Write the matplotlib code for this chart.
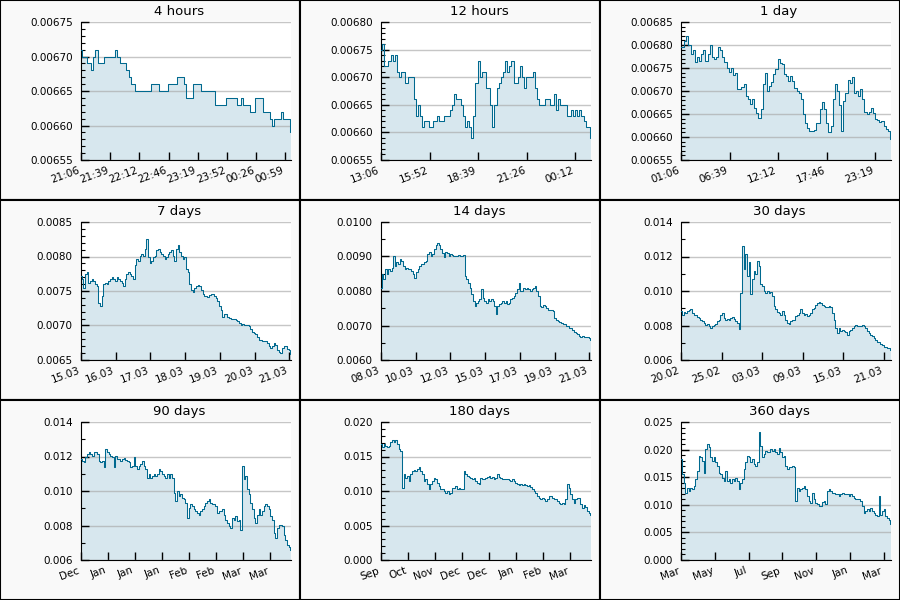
import matplotlib
matplotlib.use('Agg')
import matplotlib.pyplot as plt
from matplotlib.patches import Rectangle
from matplotlib.ticker import MultipleLocator, AutoMinorLocator, FormatStrFormatter
import numpy as np

# prices in thousandths (6.70 -> 0.00670), evenly sampled over each window
h4_vals = [6.71, 6.70, 6.70, 6.69, 6.69, 6.68, 6.70, 6.71, 6.69, 6.69, 6.69, 6.70, 6.70, 6.70, 6.70, 6.70,
           6.71, 6.70, 6.69, 6.69, 6.69, 6.68, 6.67, 6.66, 6.66, 6.65, 6.65, 6.65, 6.65, 6.65, 6.65, 6.65,
           6.66, 6.66, 6.66, 6.66, 6.65, 6.65, 6.65, 6.65, 6.66, 6.66, 6.66, 6.66, 6.67, 6.67, 6.67, 6.66,
           6.64, 6.64, 6.64, 6.66, 6.66, 6.66, 6.66, 6.65, 6.65, 6.65, 6.65, 6.65, 6.65, 6.63, 6.63, 6.63,
           6.63, 6.63, 6.64, 6.64, 6.64, 6.64, 6.64, 6.63, 6.63, 6.64, 6.63, 6.63, 6.63, 6.62, 6.62, 6.64,
           6.64, 6.64, 6.64, 6.62, 6.62, 6.62, 6.61, 6.60, 6.61, 6.61, 6.61, 6.62, 6.61, 6.61, 6.61, 6.59]

h12_vals = [6.75, 6.76, 6.72, 6.72, 6.73, 6.74, 6.73, 6.74, 6.71, 6.70, 6.71, 6.71, 6.69, 6.70, 6.70, 6.70,
            6.66, 6.63, 6.65, 6.63, 6.61, 6.62, 6.62, 6.61, 6.61, 6.62, 6.62, 6.63, 6.62, 6.62, 6.63, 6.63,
            6.63, 6.64, 6.65, 6.67, 6.66, 6.66, 6.65, 6.63, 6.61, 6.62, 6.61, 6.59, 6.63, 6.69, 6.73, 6.70,
            6.71, 6.71, 6.68, 6.68, 6.65, 6.61, 6.65, 6.68, 6.69, 6.70, 6.71, 6.73, 6.71, 6.72, 6.73, 6.69,
            6.69, 6.70, 6.72, 6.70, 6.68, 6.70, 6.70, 6.70, 6.71, 6.68, 6.66, 6.65, 6.65, 6.65, 6.66, 6.66,
            6.65, 6.65, 6.67, 6.64, 6.66, 6.65, 6.65, 6.65, 6.63, 6.63, 6.64, 6.63, 6.64, 6.63, 6.64, 6.63,
            6.62, 6.61, 6.61, 6.59]

d1_vals = [6.795, 6.795, 6.808, 6.819, 6.800, 6.780, 6.790, 6.762, 6.775, 6.765, 6.780, 6.790, 6.765,
           6.780, 6.799, 6.775, 6.770, 6.775, 6.795, 6.790, 6.775, 6.762, 6.750, 6.742, 6.751, 6.735,
           6.740, 6.704, 6.704, 6.709, 6.715, 6.689, 6.682, 6.671, 6.682, 6.662, 6.652, 6.641, 6.660,
           6.715, 6.740, 6.700, 6.711, 6.720, 6.737, 6.748, 6.769, 6.760, 6.758, 6.737, 6.733, 6.722,
           6.733, 6.722, 6.707, 6.700, 6.696, 6.682, 6.650, 6.630, 6.619, 6.612, 6.612, 6.615, 6.630,
           6.630, 6.660, 6.676, 6.660, 6.630, 6.610, 6.625, 6.682, 6.715, 6.700, 6.670, 6.612, 6.678,
           6.696, 6.725, 6.718, 6.730, 6.696, 6.700, 6.689, 6.704, 6.682, 6.655, 6.650, 6.655, 6.662,
           6.652, 6.640, 6.638, 6.632, 6.634, 6.625, 6.618, 6.612, 6.595]

d7_vals = [7.72, 7.67, 7.55, 7.74, 7.77, 7.62, 7.65, 7.67, 7.65, 7.60, 7.57, 7.33, 7.28, 7.43, 7.60, 7.62,
           7.60, 7.65, 7.67, 7.70, 7.67, 7.65, 7.70, 7.67, 7.65, 7.62, 7.57, 7.67, 7.74, 7.77, 7.74, 7.72,
           7.67, 7.87, 7.96, 7.94, 8.01, 8.04, 8.01, 8.11, 8.26, 7.99, 7.91, 7.94, 7.99, 8.01, 8.09, 8.11,
           8.06, 8.04, 8.01, 7.97, 7.99, 8.04, 8.06, 8.09, 8.01, 7.94, 8.11, 8.16, 8.06, 8.01, 7.96, 7.99,
           7.82, 7.77, 7.60, 7.52, 7.48, 7.55, 7.57, 7.58, 7.57, 7.52, 7.45, 7.43, 7.43, 7.42, 7.44, 7.45,
           7.45, 7.43, 7.40, 7.35, 7.28, 7.23, 7.13, 7.16, 7.16, 7.13, 7.11, 7.09, 7.10, 7.09, 7.08, 7.06,
           7.03, 7.01, 7.02, 7.00, 7.01, 7.00, 6.99, 6.95, 6.91, 6.89, 6.87, 6.84, 6.79, 6.79, 6.78, 6.77,
           6.77, 6.74, 6.70, 6.67, 6.70, 6.74, 6.72, 6.65, 6.62, 6.60, 6.67, 6.70, 6.70, 6.66, 6.65, 6.59]

d14_vals = [8.10, 8.49, 8.34, 8.63, 8.49, 8.63, 8.59, 8.68, 9.02, 8.73, 8.83, 8.78, 8.93, 8.88, 8.73, 8.63,
            8.68, 8.63, 8.63, 8.59, 8.49, 8.39, 8.54, 8.63, 8.73, 8.78, 8.78, 8.83, 8.88, 9.07, 9.12, 9.02,
            9.07, 9.22, 9.32, 9.40, 9.32, 9.22, 9.10, 8.98, 9.12, 9.10, 9.02, 9.07, 9.04, 9.00, 9.02, 9.02,
            9.04, 9.00, 9.02, 9.04, 8.44, 8.34, 8.24, 8.10, 7.90, 7.71, 7.56, 7.66, 7.71, 7.76, 8.05, 7.80,
            7.71, 7.66, 7.76, 7.71, 7.76, 7.71, 7.56, 7.32, 7.56, 7.61, 7.66, 7.71, 7.66, 7.71, 7.61, 7.66,
            7.76, 7.80, 7.85, 7.95, 8.05, 8.24, 8.00, 8.00, 8.10, 8.05, 8.10, 8.05, 8.00, 8.05, 8.10, 8.15,
            8.00, 7.85, 7.56, 7.54, 7.58, 7.56, 7.51, 7.46, 7.46, 7.46, 7.41, 7.22, 7.15, 7.12, 7.09, 7.07,
            7.05, 7.05, 7.00, 6.98, 6.93, 6.93, 6.86, 6.80, 6.78, 6.76, 6.70, 6.68, 6.70, 6.66, 6.68, 6.68,
            6.63, 6.59]

d30_vals = [8.83, 8.63, 8.77, 8.73, 8.83, 8.89, 8.97, 8.73, 8.63, 8.58, 8.50, 8.44, 8.30, 8.24, 8.15, 8.05,
            8.11, 7.99, 7.85, 7.95, 8.05, 8.11, 8.24, 8.34, 8.63, 8.73, 8.44, 8.34, 8.38, 8.30, 8.44, 8.50,
            8.38, 8.24, 8.15, 7.80, 9.90, 12.63, 11.27, 12.15, 10.88, 11.66, 9.81, 10.68, 11.17, 10.98,
            11.76, 11.46, 10.39, 10.29, 10.00, 9.90, 10.00, 9.90, 9.94, 9.71, 9.12, 8.93, 8.77, 8.73, 8.63,
            8.83, 8.58, 8.30, 8.15, 8.11, 8.24, 8.30, 8.34, 8.54, 8.63, 8.73, 8.93, 8.73, 8.63, 8.69, 8.54,
            8.63, 8.73, 8.93, 9.02, 9.16, 9.32, 9.36, 9.28, 9.16, 9.12, 9.08, 9.08, 9.12, 9.08, 8.73, 8.34,
            7.85, 7.56, 7.85, 7.66, 7.76, 7.66, 7.60, 7.46, 7.66, 7.76, 7.85, 7.95, 8.05, 7.99, 7.95, 7.99,
            8.05, 7.99, 7.85, 7.66, 7.56, 7.46, 7.37, 7.27, 7.17, 7.07, 7.02, 6.94, 6.88, 6.78, 6.74, 6.68,
            6.68, 6.59]

d90_vals = [11.85, 11.76, 11.66, 11.95, 12.15, 12.24, 12.15, 12.05, 12.24, 12.28, 12.15, 11.76, 11.66,
            11.76, 11.37, 12.44, 12.24, 12.15, 12.05, 11.95, 11.37, 12.05, 11.85, 11.85, 11.76, 11.85,
            11.90, 11.80, 11.76, 11.66, 11.37, 11.46, 11.95, 11.46, 11.27, 11.46, 11.56, 11.76, 11.46,
            11.27, 10.78, 10.98, 10.78, 10.88, 10.98, 10.88, 10.98, 11.27, 11.17, 10.98, 10.88, 10.78,
            10.98, 10.78, 10.98, 10.78, 9.90, 9.41, 10.00, 9.71, 9.81, 9.61, 9.51, 9.32, 8.44, 9.02, 9.22,
            9.12, 8.93, 8.83, 8.73, 8.63, 8.83, 8.93, 9.12, 9.32, 9.41, 9.51, 9.32, 9.22, 9.22, 9.12, 8.73,
            8.83, 8.83, 8.93, 8.63, 8.34, 8.15, 7.99, 7.85, 8.44, 8.34, 8.54, 8.24, 8.34, 7.76, 11.46,
            10.68, 10.88, 10.10, 9.80, 9.32, 8.93, 8.44, 8.15, 8.63, 8.93, 8.63, 8.83, 9.12, 9.22, 9.12,
            8.93, 8.54, 8.34, 7.56, 7.27, 7.85, 8.05, 8.05, 7.95, 7.46, 7.17, 6.88, 6.74, 6.59]

d180_vals = [16.83, 16.34, 16.83, 16.59, 16.34, 16.59, 17.07, 17.32, 17.07, 17.32, 16.83, 16.10, 15.85,
             10.49, 12.44, 11.95, 12.20, 11.46, 12.44, 12.93, 13.07, 12.93, 13.17, 13.41, 12.93, 12.44,
             11.46, 11.71, 10.98, 10.24, 10.98, 11.46, 11.95, 11.71, 11.22, 10.73, 10.24, 10.24, 10.00,
             9.76, 10.00, 9.51, 9.76, 10.49, 10.49, 10.73, 10.24, 10.49, 10.24, 10.24, 12.93, 12.44, 12.20,
             12.10, 11.95, 11.71, 11.95, 11.46, 11.22, 10.98, 11.95, 11.80, 11.71, 11.95, 12.10, 12.20,
             11.95, 12.10, 11.71, 11.95, 12.44, 12.10, 11.95, 11.80, 11.71, 11.80, 11.71, 11.61, 11.46,
             11.71, 11.46, 11.22, 10.98, 10.83, 10.98, 10.83, 10.98, 10.83, 10.73, 10.83, 10.63, 10.24,
             10.00, 9.76, 9.27, 9.02, 8.78, 9.02, 8.78, 8.54, 8.78, 9.27, 9.27, 9.02, 8.78, 8.78, 8.54,
             8.29, 8.05, 8.29, 8.05, 8.78, 10.98, 10.49, 9.51, 8.78, 8.29, 8.78, 9.02, 9.02, 8.05, 7.56,
             7.90, 7.71, 7.07, 6.83, 6.59]

d360_vals = [18.29, 15.55, 14.02, 12.20, 13.11, 12.50, 13.11, 12.93, 13.41, 14.63, 16.16, 18.90, 18.60,
             17.99, 15.85, 20.12, 21.04, 20.43, 18.60, 17.99, 18.60, 17.68, 17.07, 15.85, 15.55, 14.94,
             14.33, 16.16, 14.33, 14.63, 14.02, 14.76, 14.33, 14.94, 14.33, 12.80, 14.02, 14.63, 16.46,
             17.68, 18.90, 18.60, 17.68, 18.29, 17.38, 17.07, 17.68, 23.17, 20.73, 18.60, 19.21, 19.82,
             19.51, 19.51, 20.12, 19.82, 20.12, 19.51, 19.21, 20.24, 19.51, 18.60, 18.90, 17.07, 16.46,
             16.77, 16.77, 17.07, 16.77, 10.67, 13.11, 12.50, 12.80, 13.11, 13.41, 12.80, 11.58, 10.67,
             10.37, 12.20, 10.97, 10.37, 10.06, 9.76, 9.76, 10.49, 10.67, 10.06, 12.50, 12.80, 12.50, 12.20,
             12.20, 11.89, 11.89, 11.58, 11.89, 12.20, 12.01, 11.89, 11.89, 11.58, 11.89, 11.58, 11.28,
             10.97, 10.97, 11.10, 10.67, 9.76, 8.54, 8.84, 9.15, 8.84, 9.45, 8.84, 8.54, 8.23, 7.93, 11.58,
             8.23, 8.84, 9.15, 7.93, 7.62, 7.32, 6.58]

titles = ['4 hours', '12 hours', '1 day', '7 days', '14 days', '30 days', '90 days', '180 days', '360 days']

h4_ticks = ['21:06', '21:39', '22:12', '22:46', '23:19', '23:52', '00:26', '00:59']
h12_ticks = ['13:06', '15:52', '18:39', '21:26', '00:12']
d1_ticks = ['01:06', '06:39', '12:12', '17:46', '23:19']
d7_ticks = ['15.03', '16.03', '17.03', '18.03', '19.03', '20.03', '21.03']
d14_ticks = ['08.03', '10.03', '12.03', '15.03', '17.03', '19.03', '21.03']
d30_ticks = ['20.02', '25.02', '03.03', '09.03', '15.03', '21.03']
d90_ticks = ['Dec', 'Jan', 'Jan', 'Jan', 'Feb', 'Feb', 'Mar', 'Mar']
d180_ticks = ['Sep', 'Oct', 'Nov', 'Dec', 'Dec', 'Jan', 'Feb', 'Mar']
d360_ticks = ['Mar', 'May', 'Jul', 'Sep', 'Nov', 'Jan', 'Mar']

# window length and tick step, in seconds
spans = [4 * 3600, 12 * 3600, 86400, 7 * 86400, 14 * 86400, 30 * 86400, 90 * 86400, 180 * 86400, 360 * 86400]
tick_steps = [2000, 10000, 20000, 1e5, 2e5, 5e5, 1e6, 2e6, 5e6]

all_vals = [h4_vals, h12_vals, d1_vals, d7_vals, d14_vals, d30_vals, d90_vals, d180_vals, d360_vals]
all_ticks = [h4_ticks, h12_ticks, d1_ticks, d7_ticks, d14_ticks, d30_ticks, d90_ticks, d180_ticks, d360_ticks]

# y axis: (min, max, major step, minor divisions, format)
yaxes = [(0.00655, 0.00675, 0.00005, 5, '%.5f'),
         (0.00655, 0.00680, 0.00005, 5, '%.5f'),
         (0.00655, 0.00685, 0.00005, 5, '%.5f'),
         (0.0065, 0.0085, 0.0005, 5, '%.4f'),
         (0.0060, 0.0100, 0.0010, 2, '%.4f'),
         (0.006, 0.014, 0.002, 2, '%.3f'),
         (0.006, 0.014, 0.002, 2, '%.3f'),
         (0.000, 0.020, 0.005, 5, '%.3f'),
         (0.000, 0.025, 0.005, 5, '%.3f')]

LINE = '#00698f'
FILL = '#d7e7ee'

fig = plt.figure(figsize=(9, 6), dpi=100)
fig.patch.set_facecolor('white')

for k in range(9):
    r, c = divmod(k, 3)
    px = c * 300
    py = 600 - (r + 1) * 200
    fig.patches.append(Rectangle((px / 900, py / 600), 300 / 900, 200 / 600, transform=fig.transFigure,
                                 facecolor='#f9f9f9', edgecolor='black', lw=1.5, zorder=-5))
    ax = fig.add_axes([(px + 81) / 900, (py + 40) / 600, 210 / 900, 138 / 600])
    ax.set_zorder(2)
    ax.set_facecolor('white')

    ylo, yhi, ystep, ndiv, fmt = yaxes[k]
    y = np.array(all_vals[k]) * 1e-3
    x = np.linspace(0, spans[k], len(y))
    ax.fill_between(x, y, ylo, step='mid', color=FILL, lw=0, zorder=1)
    ax.plot(x, y, drawstyle='steps-mid', color=LINE, lw=0.75, zorder=3)

    ax.set_xlim(0, spans[k])
    ax.set_ylim(ylo, yhi)
    ax.set_xticks(np.arange(len(all_ticks[k])) * tick_steps[k])
    ax.set_xticklabels(all_ticks[k], rotation=20, ha='right')
    ax.yaxis.set_major_locator(MultipleLocator(ystep))
    ax.yaxis.set_minor_locator(AutoMinorLocator(ndiv))
    ax.yaxis.set_major_formatter(FormatStrFormatter(fmt))

    ax.set_axisbelow('line')
    ax.grid(axis='y', color='#a8a8a8', alpha=0.65, lw=1)
    for s in ['top', 'right']:
        ax.spines[s].set_visible(False)
    ax.tick_params(direction='in', length=6, width=1, labelsize=7.5, colors='black')
    ax.tick_params(axis='y', pad=6)
    ax.tick_params(axis='x', pad=4)
    ax.tick_params(axis='y', which='minor', direction='in', length=3, width=0.8)
    ax.set_title(titles[k], fontsize=9.5, x=0.467, pad=5)

fig.savefig('out.png', dpi=100)
